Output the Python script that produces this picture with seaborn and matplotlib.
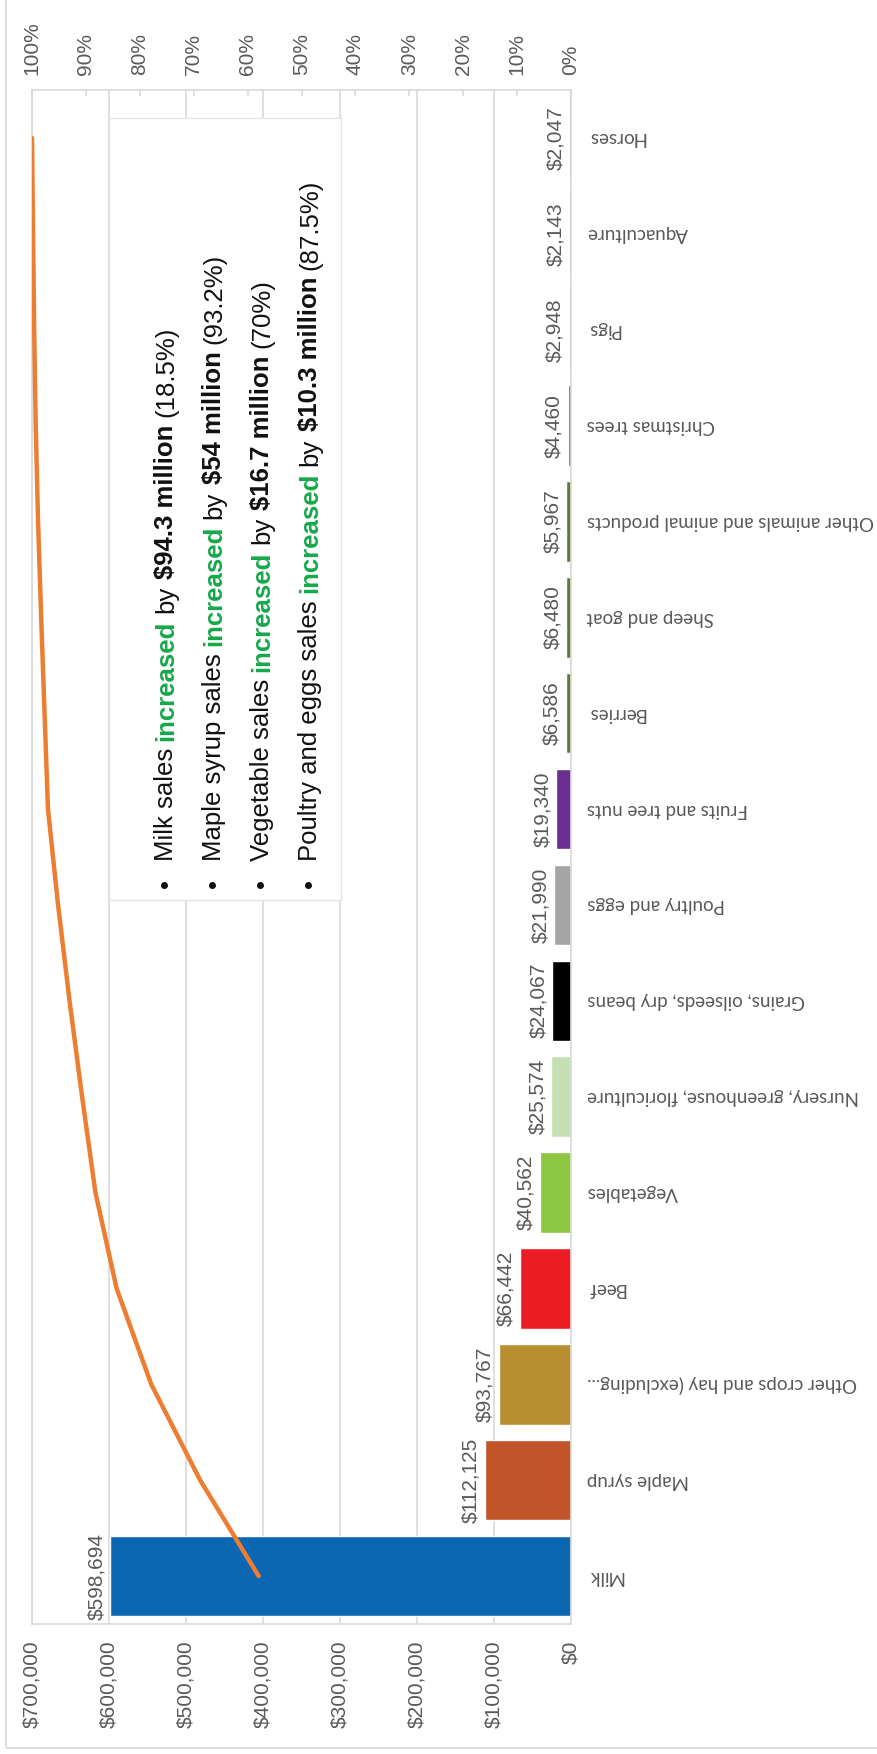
import numpy as np
import pandas as pd
import matplotlib
matplotlib.use("Agg")
import matplotlib.pyplot as plt
from matplotlib.ticker import FuncFormatter
from matplotlib.patches import Rectangle
from matplotlib.transforms import IdentityTransform
import seaborn as sns

# ---- data -------------------------------------------------------------
categories = [
    "Milk", "Maple syrup", "Other crops and hay (excluding...", "Beef",
    "Vegetables", "Nursery, greenhouse, floriculture",
    "Grains, oilseeds, dry beans", "Poultry and eggs", "Fruits and tree nuts",
    "Berries", "Sheep and goat", "Other animals and animal products",
    "Christmas trees", "Pigs", "Aquaculture", "Horses",
]
sales = [598694, 112125, 93767, 66442, 40562, 25574, 24067, 21990,
         19340, 6586, 6480, 5967, 4460, 2948, 2143, 2047]
bar_colors = [
    "#0B67B2", "#C15428", "#B98E30", "#ED1C24", "#8DC641", "#C4E0B2",
    "#000000", "#A5A5A5", "#6A2D91", "#538135", "#538135", "#538135",
    "#538135", "#538135", "#538135", "#538135",
]
value_ticks = [0, 100000, 200000, 300000, 400000, 500000, 600000, 700000]
pct_ticks = [0.0, 0.1, 0.2, 0.3, 0.4, 0.5, 0.6, 0.7, 0.8, 0.9, 1.0]

notes = [
    [("Milk sales", False, "k"), ("increased", True, "g"), ("by", False, "k"),
     ("$94.3 million", True, "k"), ("(18.5%)", False, "k")],
    [("Maple syrup sales", False, "k"), ("increased", True, "g"), ("by", False, "k"),
     ("$54 million", True, "k"), ("(93.2%)", False, "k")],
    [("Vegetable sales", False, "k"), ("increased", True, "g"), ("by", False, "k"),
     ("$16.7 million", True, "k"), ("(70%)", False, "k")],
    [("Poultry and eggs sales", False, "k"), ("increased", True, "g"), ("by", False, "k"),
     ("$10.3 million", True, "k"), ("(87.5%)", False, "k")],
]

# ---- style ------------------------------------------------------------
sns.set_theme(style="white")
plt.rcParams["font.family"] = ["Lato", "DejaVu Sans"]
GRID = "#D9D9D9"
LABEL = "#595959"
ORANGE = "#ED7D31"
note_colors = {"k": "#111111", "g": "#17A84B"}
narrow = ["Liberation Sans Narrow", "Liberation Sans", "DejaVu Sans"]

W, H = 877, 1754
fig = plt.figure(figsize=(W / 100, H / 100), dpi=100)
fig.patch.set_facecolor("white")

# plot area (pixel box -> figure fraction)
left, right, top, bottom = 32, 571, 90, 1624
ax = fig.add_axes([left / W, 1 - bottom / H, (right - left) / W, (bottom - top) / H])

df = pd.DataFrame({"category": categories, "sales": sales})
order = categories[::-1]          # Horses on top, Milk at the bottom
palette = dict(zip(categories, bar_colors))

sns.barplot(data=df, x="sales", y="category", hue="category", order=order,
            hue_order=categories, palette=palette, saturation=1, width=0.84,
            orient="h", legend=False, ax=ax)

ax.set_xlim(700000, 0)
ax.set_xticks(value_ticks)
ax.xaxis.set_major_formatter(FuncFormatter(lambda v, _: f"${v:,.0f}"))
ax.xaxis.grid(True, color=GRID, lw=1.2)
ax.yaxis.grid(False)
ax.set_axisbelow(True)
ax.set_xlabel("")
ax.set_ylabel("")
ax.tick_params(axis="x", bottom=False, length=0, pad=12, labelrotation=90,
               labelsize=15, labelcolor=LABEL)
for lab in ax.get_xticklabels():
    lab.set_family(narrow)

ax.yaxis.tick_right()
ax.tick_params(axis="y", right=False, left=False, length=0, pad=11.5,
               labelsize=13.5, labelcolor=LABEL)
for lab in ax.get_yticklabels():
    lab.set_rotation(180)
    lab.set_ha("left")
    lab.set_va("center")

for sp in ax.spines.values():
    sp.set_color(GRID)
    sp.set_linewidth(1.2)

# value labels at the end of every bar
for cat, v in zip(categories, sales):
    ax.annotate(f"${v:,}", xy=(v, order.index(cat)), xytext=(-3, 0),
                textcoords="offset points", rotation=90, ha="right",
                va="center", fontsize=15, color=LABEL, family=narrow)

# cumulative share on the secondary (percent) axis
cum_share = np.cumsum(sales) / np.sum(sales)
positions = [order.index(c) for c in categories]
ax2 = ax.twiny()
ax2.set_xlim(1.0, 0.0)
ax2.plot(cum_share, positions, color=ORANGE, lw=3.2, solid_capstyle="round",
         solid_joinstyle="round", zorder=3)
ax2.set_xticks(pct_ticks)
ax2.xaxis.set_major_formatter(FuncFormatter(lambda v, _: f"{v:.0%}"))
ax2.tick_params(axis="x", top=True, direction="in", length=4.5, width=1.2,
                color=GRID, pad=11, labelrotation=90, labelsize=15,
                labelcolor=LABEL)
for lab in ax2.get_xticklabels():
    lab.set_family(narrow)
for sp in ax2.spines.values():
    sp.set_visible(False)

# keep one full slot per category (the line must not widen the range)
ax.set_ylim(len(categories) - 0.5, -0.5)

# outer chart frame
fig.add_artist(Rectangle((6 / W, 6 / H), 1.2, 1.2, transform=fig.transFigure,
                         fill=False, edgecolor=GRID, lw=1.2, zorder=0))

# ---- notes box --------------------------------------------------------
bx0, bx1, by0, by1 = 109, 341, 118, 900
fig.add_artist(Rectangle((bx0 / W, 1 - by1 / H), (bx1 - bx0) / W, (by1 - by0) / H,
                         transform=fig.transFigure, facecolor="white",
                         edgecolor="#E4E4E4", lw=1.0, zorder=2))

renderer = fig.canvas.get_renderer()
fs = 18.5


def text_width(s, bold):
    t = fig.text(0, 0, s, transform=IdentityTransform(), fontsize=fs,
                 family=narrow, fontweight="bold" if bold else "normal")
    w = t.get_window_extent(renderer).width
    t.remove()
    return w


space_w = text_width("x x", False) - text_width("xx", False)

baselines = [173, 221, 269, 317]
text_start = 861
bullet_y = 884
for bx, line in zip(baselines, notes):
    fig.text(bx, H - bullet_y, "•", transform=IdentityTransform(), rotation=90,
             rotation_mode="anchor", ha="center", va="baseline", fontsize=fs,
             family=narrow, color="#111111", zorder=4)
    cur = H - text_start
    for s, bold, col in line:
        t = fig.text(bx, cur, s, transform=IdentityTransform(), rotation=90,
                     rotation_mode="anchor", ha="left", va="baseline",
                     fontsize=fs, family=narrow,
                     fontweight="bold" if bold else "normal",
                     color=note_colors[col], zorder=4)
        cur += t.get_window_extent(renderer).height + space_w

fig.savefig("out.png", dpi=100, facecolor="white")
